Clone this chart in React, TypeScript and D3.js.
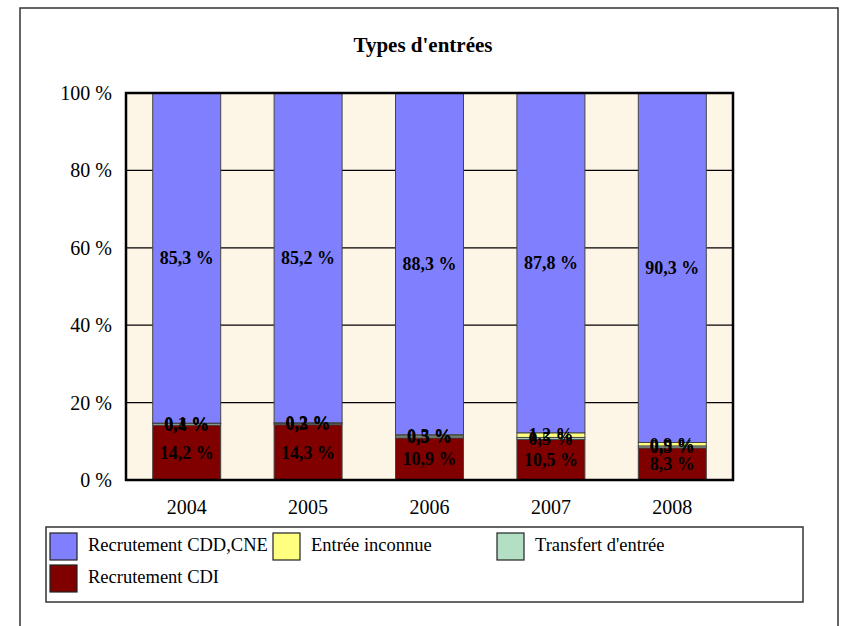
import React from "react";
import * as d3 from "d3";

const years = ["2004", "2005", "2006", "2007", "2008"];
const cdi = [14.2, 14.3, 10.9, 10.5, 8.3];
const transfert = [0.4, 0.3, 0.5, 0.5, 0.5];
const inconnue = [0.1, 0.2, 0.3, 1.2, 0.9];
const cdd = [85.3, 85.2, 88.3, 87.8, 90.3];
const yTicks = [0, 20, 40, 60, 80, 100];

const seriesNames = ["Recrutement CDI", "Transfert d'entrée", "Entrée inconnue", "Recrutement CDD,CNE"];
const seriesValues = [cdi, transfert, inconnue, cdd];
const seriesColors = ["#800000", "#B3E0C4", "#FFFF80", "#8080FF"];

const fmt = (v: number) => v.toFixed(1).replace(".", ",") + " %";

export default function App() {
  const W = 847, H = 626;
  const left = 126, right = 733, top = 93, bottom = 480;
  const x = d3.scaleBand<string>().domain(years).range([left, right]).paddingInner(0.44).paddingOuter(0.22);
  const xc = d3.scaleBand<string>().domain(years).range([left, right]);
  const y = d3.scaleLinear().domain([0, 100]).range([bottom, top]);

  const table = years.map((yr, i) => {
    const row: any = { year: yr };
    seriesNames.forEach((n, s) => (row[n] = seriesValues[s][i]));
    return row;
  });
  const stacked = d3.stack<any>().keys(seriesNames)(table);

  const font = "'Liberation Serif', 'Times New Roman', serif";

  const legendItems = [
    { s: 3, x: 50, y: 533 },
    { s: 2, x: 273, y: 533 },
    { s: 1, x: 497, y: 533 },
    { s: 0, x: 50, y: 565 },
  ];

  return (
    <svg width={W} height={H} style={{ position: "absolute", left: 0, top: 0 }} fontFamily={font}>
      <rect x={0} y={0} width={W} height={H} fill="#ffffff" />
      <rect x={20} y={8} width={818} height={640} fill="#ffffff" stroke="#333" strokeWidth={1.5} />
      <text x={423} y={52} textAnchor="middle" fontSize={21} fontWeight="bold">Types d'entrées</text>

      <rect x={left} y={top} width={right - left} height={bottom - top} fill="#FDF5E6" />
      {yTicks.map((t) => (
        <line key={t} x1={left} x2={right} y1={y(t)} y2={y(t)} stroke="#000" strokeWidth={1.2} />
      ))}
      {yTicks.map((t) => (
        <text key={"l" + t} x={112} y={y(t)} dy="0.35em" textAnchor="end" fontSize={20}>{t} %</text>
      ))}

      {stacked.map((layer, s) =>
        layer.map((d, i) => (
          <rect
            key={s + "-" + i}
            x={x(years[i])!}
            width={x.bandwidth()}
            y={y(d[1])}
            height={Math.max(0, y(d[0]) - y(d[1]))}
            fill={seriesColors[s]}
            stroke="#444"
            strokeWidth={1}
          />
        ))
      )}

      <rect x={left} y={top} width={right - left} height={bottom - top} fill="none" stroke="#000" strokeWidth={2.5} />

      {stacked.map((layer, s) =>
        layer.map((d, i) => (
          <text
            key={"t" + s + "-" + i}
            x={xc(years[i])! + xc.bandwidth() / 2}
            y={(y(d[0]) + y(d[1])) / 2}
            dy="0.35em"
            textAnchor="middle"
            fontSize={18}
            fontWeight="bold"
          >
            {fmt(seriesValues[s][i])}
          </text>
        ))
      )}

      {years.map((yr) => (
        <text key={yr} x={xc(yr)! + xc.bandwidth() / 2} y={514} textAnchor="middle" fontSize={20}>{yr}</text>
      ))}

      <rect x={46} y={527} width={757} height={75} fill="#fff" stroke="#333" strokeWidth={1.5} />
      {legendItems.map((it) => (
        <g key={it.s}>
          <rect x={it.x} y={it.y} width={27} height={27} fill={seriesColors[it.s]} stroke="#222" strokeWidth={1.2} />
          <text x={it.x + 38} y={it.y + 18} fontSize={18.5}>{seriesNames[it.s]}</text>
        </g>
      ))}
    </svg>
  );
}
